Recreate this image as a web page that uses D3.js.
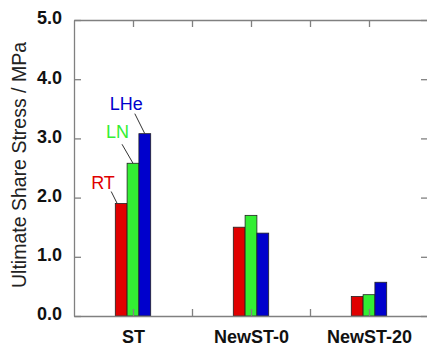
<!DOCTYPE html>
<html>
<head>
<meta charset="utf-8">
<script src="https://cdn.jsdelivr.net/npm/d3@7"></script>
<style>
  html, body { margin: 0; padding: 0; background: #fff; }
  svg { display: block; font-family: "Liberation Sans", Arial, sans-serif; }
</style>
</head>
<body>
<svg id="chart" width="427" height="347"></svg>
<script>
// ─── Data ────────────────────────────────────────────────
const categories = ['ST', 'NewST-0', 'NewST-20'];
const series = ['RT', 'LN', 'LHe'];
const rtValues = [1.90, 1.50, 0.33];
const lnValues = [2.58, 1.70, 0.36];
const lheValues = [3.08, 1.40, 0.57];
const yTicks = [0, 1, 2, 3, 4, 5];

const values = [rtValues, lnValues, lheValues];
const colors = ['#e00000', '#33ee33', '#0000cc'];

// ─── Layout ──────────────────────────────────────────────
const svg = d3.select('#chart');
const plotL = 74, plotR = 428, plotT = 20, plotB = 316;

// categories sit on every other unit of a 0..6 axis
const x = d3.scaleLinear().domain([0, 6]).range([plotL, plotR]);
const y = d3.scaleLinear().domain([0, 5]).range([plotB, plotT]);
const catPos = i => 1 + i * 2;
const barW = 0.2;

// ─── Bars ────────────────────────────────────────────────
series.forEach((s, si) => {
  svg.append('g').selectAll('rect')
    .data(values[si]).join('rect')
    .attr('x', (d, i) => x(catPos(i) + (si - 1.5) * barW))
    .attr('width', x(barW) - x(0))
    .attr('y', d => y(d))
    .attr('height', d => y(0) - y(d))
    .attr('fill', colors[si])
    .attr('stroke', '#222')
    .attr('stroke-width', 0.8);
});

// ─── Axes (frame with inward ticks) ──────────────────────
const axisColor = '#808080';
function styleAxis(g) {
  g.select('.domain').attr('stroke', axisColor).attr('stroke-width', 1.3);
  g.selectAll('.tick line').attr('stroke', axisColor).attr('stroke-width', 1.3);
}

const xTickVals = [1, 2, 3, 4, 5];
const catLabel = d => (d % 2 === 1 ? categories[(d - 1) / 2] : '');

svg.append('g').attr('transform', `translate(0,${plotB})`)
  .call(d3.axisBottom(x).tickValues(xTickVals).tickSize(-7).tickSizeOuter(0).tickPadding(14).tickFormat(catLabel))
  .call(styleAxis)
  .call(g => g.selectAll('text').attr('font-size', 18).attr('font-weight', 'bold').attr('fill', '#111')
    .attr('font-family', '"Liberation Sans", Arial, sans-serif'));

svg.append('g').attr('transform', `translate(0,${plotT})`)
  .call(d3.axisTop(x).tickValues(xTickVals).tickSize(-7).tickSizeOuter(0).tickFormat(''))
  .call(styleAxis);

svg.append('g').attr('transform', `translate(${plotL},0)`)
  .call(d3.axisLeft(y).tickValues(yTicks).tickSize(-7).tickSizeOuter(0).tickPadding(12).tickFormat(d3.format('.1f')))
  .call(styleAxis)
  .call(g => g.selectAll('text').attr('font-size', 18).attr('font-weight', 'bold').attr('fill', '#111')
    .attr('dy', '0.22em').attr('font-family', '"Liberation Sans", Arial, sans-serif'));

svg.append('g').attr('transform', `translate(${plotR},0)`)
  .call(d3.axisRight(y).tickValues(yTicks).tickSize(-7).tickSizeOuter(0).tickFormat(''))
  .call(styleAxis);

// ─── Y title ─────────────────────────────────────────────
svg.append('text')
  .attr('transform', `translate(26,165) rotate(-90)`)
  .attr('text-anchor', 'middle')
  .attr('font-size', 19.5)
  .attr('fill', '#222')
  .text('Ultimate Share Stress / MPa');

// ─── Series labels with leader lines (on the ST group) ───
// offsets relative to each bar's top centre
const labelOffsets = [
  { lx0: -4, ly0: 0, lx1: -10, ly1: -12, tx: -30, ty: -15 },
  { lx0: 0, ly0: 0, lx1: -11, ly1: -19, tx: -27, ty: -25 },
  { lx0: 0, ly0: 0, lx1: -10, ly1: -20, tx: -35, ty: -24 },
];
series.forEach((s, si) => {
  const cx = x(catPos(0) + (si - 1) * barW);
  const cy = y(values[si][0]);
  const o = labelOffsets[si];
  svg.append('line')
    .attr('x1', cx + o.lx0).attr('y1', cy + o.ly0)
    .attr('x2', cx + o.lx1).attr('y2', cy + o.ly1)
    .attr('stroke', '#333').attr('stroke-width', 1);
  svg.append('text')
    .attr('x', cx + o.tx).attr('y', cy + o.ty)
    .attr('font-size', 18)
    .attr('fill', colors[si])
    .text(s);
});
</script>
</body>
</html>
